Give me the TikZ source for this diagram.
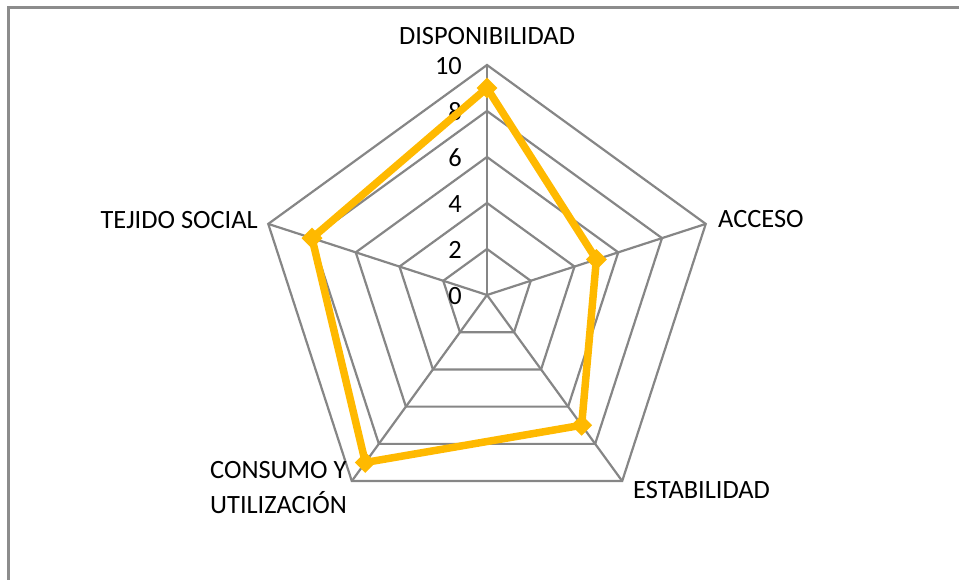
\documentclass[tikz,border=0pt]{standalone}
\usepackage{fontspec}
\setmainfont{Carlito}
\usetikzlibrary{shapes.geometric,calc}
\definecolor{gridgray}{RGB}{134,134,134}
\definecolor{framegray}{RGB}{140,140,140}
\definecolor{gold}{RGB}{255,185,0}
\begin{document}
\begin{tikzpicture}[x=1pt,y=1pt,
  grid/.style={draw=gridgray,line width=2.2pt,line join=miter},
  series/.style={draw=gold,line width=7.5pt,line join=miter},
  mk/.style={diamond,fill=gold,inner sep=0pt,minimum size=21pt},
  axlab/.style={font=\fontsize{26.4}{35}\selectfont,inner sep=0pt,text=black},
  ticklab/.style={font=\fontsize{26.4}{30}\selectfont,inner sep=0pt,anchor=east,text=black}]
\useasboundingbox (0,0) rectangle (959,580);
% chart frame (continues beyond the right and bottom edges)
\draw[draw=framegray,line width=3pt] (8.5,-20) -- (8.5,572.5) -- (990,572.5);
\coordinate (c) at (487,285);
\begin{scope}[shift={(487,285)}]
  % rings
  \foreach \k in {1,...,5}{
    \pgfmathsetmacro\R{46*\k}
    \draw[grid] (90:\R pt) -- (18:\R pt) -- (-54:\R pt) -- (-126:\R pt) -- (162:\R pt) -- cycle;
  }
  % outer vertices
  \coordinate (v1) at (90:230pt);
  \coordinate (v2) at (18:230pt);
  \coordinate (v3) at (-54:230pt);
  \coordinate (v4) at (-126:230pt);
  \coordinate (v5) at (162:230pt);
  % data points
  \coordinate (d1) at (90:207pt);
  \coordinate (d2) at (18:115pt);
  \coordinate (d3) at (-54:161pt);
  \coordinate (d4) at (-126:207pt);
  \coordinate (d5) at (162:184pt);
\end{scope}
% spokes
\foreach \v in {v1,v2,v3,v4,v5}{ \draw[grid] (c) -- (\v); }
% tick labels
\foreach \k/\t in {0/0,1/2,2/4,3/6,4/8,5/10}{
  \node[ticklab] (t\k) at ($(c)+(-25,46*\k-1)$) {\t};
}
% series
\draw[series] (d1) -- (d2) -- (d3) -- (d4) -- (d5) -- cycle;
\foreach \i in {1,...,5}{ \node[mk] (m\i) at (d\i) {}; }
% axis labels
\node[axlab] (l1) at (487,544) {DISPONIBILIDAD};
\node[axlab,anchor=west] (l2) at (718,361) {ACCESO};
\node[axlab,anchor=west] (l3) at (633,90) {ESTABILIDAD};
\node[axlab,anchor=west,align=left] (l4) at (210,92.5) {CONSUMO Y\\UTILIZACIÓN};
\node[axlab,anchor=east] (l5) at (258,360) {TEJIDO SOCIAL};
\end{tikzpicture}
\end{document}
